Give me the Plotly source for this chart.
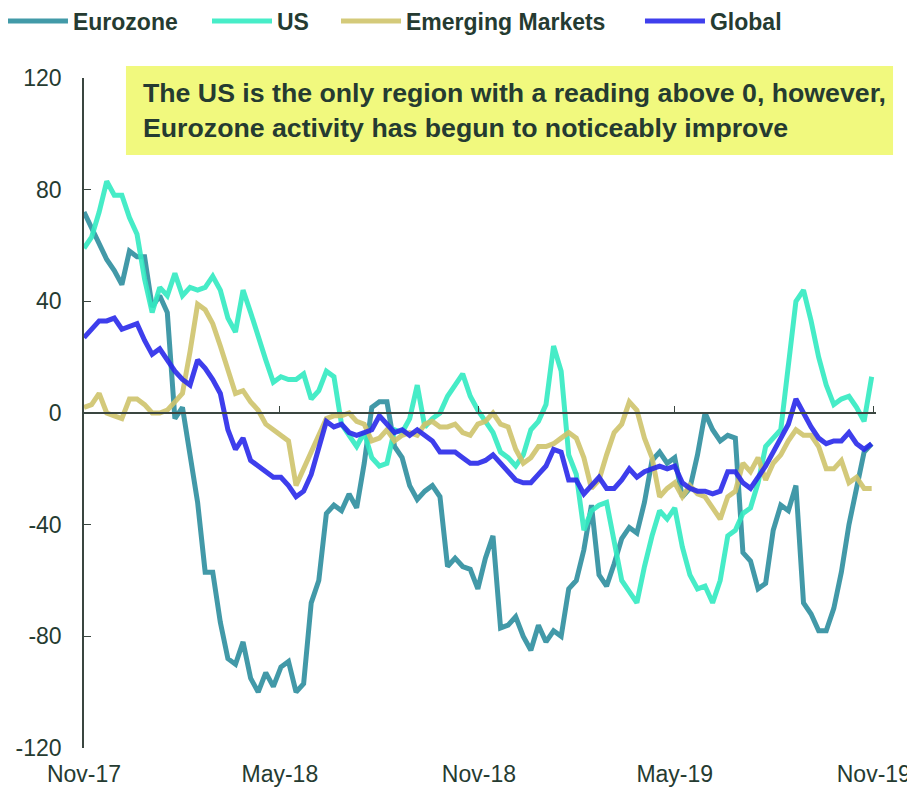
import pandas as pd
import plotly.graph_objects as go

start_date = "2017-11-01"
n_weeks = 105

eurozone = [72, 66, 60, 55, 51, 46, 58, 56, 56, 38, 42, 36, -2, 2, -15, -32, -57, -57, -75, -88,
            -90, -82, -95, -100, -93, -98, -91, -89, -100, -97, -68, -60, -36, -33, -35, -29, -34, -18, 2, 4,
            4, -12, -16, -26, -31, -28, -26, -30, -55, -52, -55, -56, -63, -52, -44, -77, -76, -73, -80, -85,
            -76, -82, -78, -80, -63, -60, -49, -33, -58, -62, -54, -45, -41, -43, -32, -17, -14, -18, -16, -30,
            -27, -15, 0, -6, -10, -8, -9, -50, -53, -63, -61, -42, -33, -35, -26, -68, -72, -78, -78, -70,
            -57, -40, -27, -14, -11]

us = [59, 63, 72, 83, 78, 78, 70, 64, 48, 36, 45, 42, 50, 42, 45, 44, 45, 49, 44, 34,
      29, 44, 36, 27, 19, 11, 13, 12, 12, 14, 5, 8, 15, 13, -4, -8, -12, -7, -16, -19,
      -18, -6, -7, -2, 10, -5, -2, 0, 6, 10, 14, 6, 1, -3, -7, -14, -16, -19, -15, -6,
      -3, 3, 24, 15, -15, -22, -42, -35, -33, -32, -45, -60, -64, -68, -55, -44, -35, -38, -34, -48,
      -58, -63, -62, -68, -60, -44, -42, -36, -34, -25, -12, -9, -6, 17, 40, 44, 33, 20, 10, 3,
      5, 6, 2, -3, 13]

emerging = [2, 3, 7, 0, -1, -2, 5, 5, 3, 0, 0, 1, 4, 7, 22, 39, 37, 32, 24, 16,
            7, 8, 4, 1, -4, -6, -8, -10, -26, -20, -14, -9, -2, -1, -1, 0, -3, -4, -10, -9,
            -6, -10, -8, -7, -8, -4, -3, -5, -5, -4, -7, -8, -4, -3, 0, -4, -5, -13, -18, -16,
            -12, -12, -11, -9, -7, -9, -16, -27, -24, -15, -7, -4, 4, 1, -9, -16, -30, -27, -25, -30,
            -26, -29, -30, -34, -38, -30, -28, -18, -21, -16, -24, -18, -15, -10, -6, -8, -8, -12, -20, -20,
            -17, -25, -23, -27, -27]

global_ = [27, 30, 33, 33, 34, 30, 31, 32, 26, 21, 23, 19, 15, 12, 10, 19, 16, 12, 7, -6,
           -13, -9, -17, -19, -21, -23, -23, -26, -30, -28, -22, -13, -3, -5, -4, -7, -8, -7, -6, -1,
           -4, -7, -6, -8, -6, -8, -10, -14, -14, -14, -16, -18, -18, -17, -15, -18, -21, -24, -25, -25,
           -22, -19, -13, -14, -24, -24, -29, -26, -23, -27, -27, -24, -20, -23, -21, -20, -19, -20, -19, -25,
           -27, -28, -28, -29, -28, -21, -21, -25, -27, -23, -19, -14, -9, -4, 5, 0, -5, -9, -11, -10,
           -10, -7, -11, -13, -11]

tick_dates = ["2017-11-01", "2018-05-01", "2018-11-01", "2019-05-01", "2019-11-01"]
tick_labels = ["Nov-17", "May-18", "Nov-18", "May-19", "Nov-19"]
y_ticks = [-120, -80, -40, 0, 40, 80, 120]
y_tick_labels = ["-120", "-80", "-40", "0", "40", "80", "120"]

series_names = ["Eurozone", "US", "Emerging Markets", "Global"]
series_colors = ["#2E8F9F", "#33EBC2", "#CFC46C", "#2A2AEB"]
legend_ids = ["legend", "legend2", "legend3", "legend4"]
legend_x = [-0.1023, 0.1553, 0.3182, 0.7020]

dates = pd.date_range(start_date, periods=n_weeks, freq="7D")

TXT = "#253B31"
AX = "#3A4640"
FONT = "Liberation Sans, Arial, sans-serif"

fig = go.Figure()
for name, vals, col, lg in zip(series_names, [eurozone, us, emerging, global_], series_colors, legend_ids):
    fig.add_trace(go.Scatter(x=dates, y=vals, mode="lines", name=name, legend=lg,
                             line=dict(color=col, width=5), opacity=0.9))

# helper trace so the bottom label axis is drawn
fig.add_trace(go.Scatter(x=[], y=[], xaxis="x2", yaxis="y", showlegend=False, hoverinfo="skip"))

legend_common = dict(orientation="h", xanchor="left", y=1.0851, yanchor="middle",
                     font=dict(size=23, weight="bold", color=TXT, family=FONT),
                     itemwidth=60, bgcolor="rgba(0,0,0,0)", borderwidth=0)
legends = {}
for lg, lx in zip(legend_ids, legend_x):
    legends[lg] = dict(legend_common, x=lx)

# page body has an 8px margin, so the figure is 8px smaller on each side
fig.update_layout(
    width=907, height=784,
    margin=dict(l=76, r=39, t=70, b=44, autoexpand=False),
    plot_bgcolor="white", paper_bgcolor="white",
    font=dict(family=FONT, color=TXT, size=23),
    showlegend=True,
    xaxis=dict(type="date", range=["2017-11-01", "2019-11-03"], anchor="free", position=0.5,
               showline=True, linecolor=AX, linewidth=1.5, ticks="inside", ticklen=6,
               tickcolor=AX, tickvals=tick_dates, showticklabels=False, showgrid=False,
               zeroline=False),
    xaxis2=dict(type="date", overlaying="x", matches="x", anchor="y", side="bottom",
                showline=False, ticks="", tickvals=tick_dates, ticktext=tick_labels,
                tickfont=dict(size=23, color=TXT, family=FONT), showgrid=False, zeroline=False,
                ticklabelstandoff=10),
    yaxis=dict(range=[-120, 120], tickvals=y_ticks, ticktext=y_tick_labels, ticks="inside", ticklen=7,
               tickcolor=AX, showline=True, linecolor=AX, linewidth=1.5,
               showgrid=False, zeroline=False, tickfont=dict(size=23, color=TXT, family=FONT),
               ticklabelstandoff=16),
    **legends,
)

fig.add_shape(type="rect", xref="paper", yref="paper", x0=0.053, x1=1.0215, y0=0.885, y1=1.018,
              fillcolor="#F1F97E", line=dict(width=0), layer="above")
fig.add_annotation(xref="paper", yref="paper", x=0.072, y=0.951, xanchor="left", yanchor="middle",
                   align="left", showarrow=False,
                   text="<b>The US is the only region with a reading above 0, however,<br>"
                        "Eurozone activity has begun to noticeably improve</b>",
                   font=dict(size=26.7, color=TXT, family=FONT))

fig.write_html("out.html")
